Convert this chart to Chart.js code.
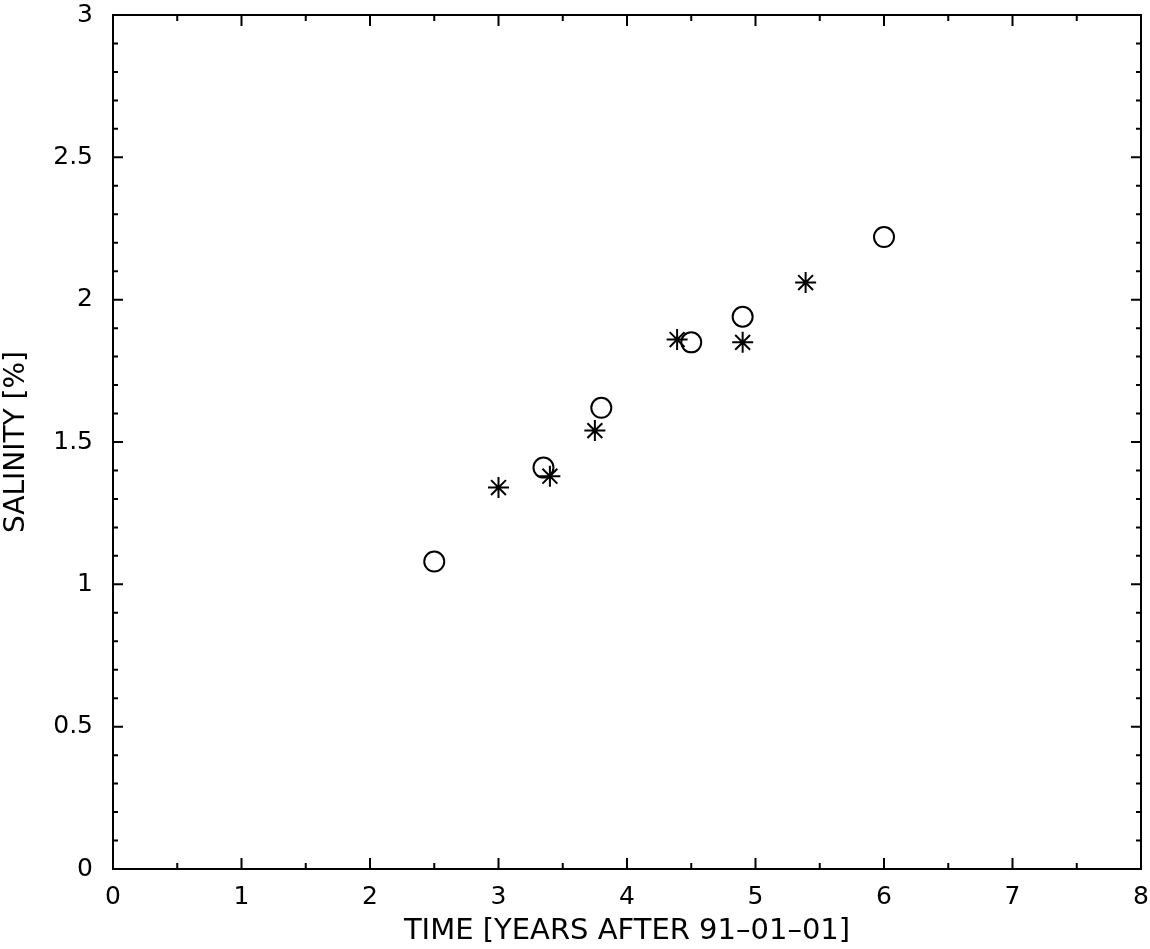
<!DOCTYPE html>
<html>
<head>
<meta charset="utf-8">
<title>Salinity vs time</title>
<script src="https://cdn.jsdelivr.net/npm/chart.js@4/dist/chart.umd.min.js"></script>
<style>
  html, body { margin: 0; padding: 0; background: #fff; }
  canvas { display: block; }
</style>
</head>
<body>
<canvas id="salinityChart" width="1150" height="949"></canvas>
<script>
// ----------- DATA -----------
const circleX = [2.5, 3.35, 3.8, 4.5, 4.9, 6.0];
const circleY = [1.08, 1.41, 1.62, 1.85, 1.94, 2.22];
const starX = [3.0, 3.4, 3.75, 4.39, 4.9, 5.39];
const starY = [1.34, 1.38, 1.54, 1.86, 1.85, 2.06];

const xTickLabels = ['0', '1', '2', '3', '4', '5', '6', '7', '8'];
const yTickLabels = ['0', '0.5', '1', '1.5', '2', '2.5', '3'];

const xTitle = 'TIME [YEARS AFTER 91\u201301\u201301]';
const yTitle = 'SALINITY [%]';

Chart.defaults.font.family = '"DejaVu Sans", "Liberation Sans", Arial, sans-serif';
Chart.defaults.color = '#000';

const toPoints = (xs, ys) => xs.map((x, i) => ({ x: x, y: ys[i] }));

// no extra label overhang padding, the layout padding sets the box
function noPad(scale) {
  scale.paddingLeft = 0;
  scale.paddingRight = 0;
  scale.paddingTop = 0;
  scale.paddingBottom = 0;
}

// ----------- FRAME + INWARD TICKS -----------
const frameTicks = {
  id: 'frameTicks',
  afterDraw(chart) {
    const ctx = chart.ctx;
    const a = chart.chartArea;
    const xs = chart.scales.x;
    const ys = chart.scales.y;
    ctx.save();
    ctx.strokeStyle = '#000';
    ctx.lineWidth = 2;
    ctx.strokeRect(a.left, a.top, a.right - a.left, a.bottom - a.top);

    ctx.beginPath();
    for (let i = 0; i <= 16; i++) {
      const v = i * 0.5;
      const len = (i % 2 === 0) ? 11 : 6;
      const px = xs.getPixelForValue(v);
      ctx.moveTo(px, a.bottom); ctx.lineTo(px, a.bottom - len);
      ctx.moveTo(px, a.top); ctx.lineTo(px, a.top + len);
    }
    for (let i = 0; i <= 30; i++) {
      const v = i * 0.1;
      const len = (i % 5 === 0) ? 10 : 5;
      const py = ys.getPixelForValue(v);
      ctx.moveTo(a.left, py); ctx.lineTo(a.left + len, py);
      ctx.moveTo(a.right, py); ctx.lineTo(a.right - len, py);
    }
    ctx.stroke();
    ctx.restore();
  }
};

// ----------- CHART -----------
const ctx = document.getElementById('salinityChart').getContext('2d');
const salinityChart = new Chart(ctx, {
  type: 'scatter',
  data: {
    datasets: [
      {
        label: 'circles',
        data: toPoints(circleX, circleY),
        pointStyle: 'circle',
        pointRadius: 10,
        borderColor: '#000',
        backgroundColor: 'rgba(0,0,0,0)',
        borderWidth: 2
      },
      {
        label: 'stars',
        data: toPoints(starX, starY),
        pointStyle: 'star',
        pointRadius: 10.5,
        borderColor: '#000',
        backgroundColor: 'rgba(0,0,0,0)',
        borderWidth: 2
      }
    ]
  },
  options: {
    responsive: false,
    animation: false,
    layout: { autoPadding: false, padding: { top: 15, right: 9, left: 0, bottom: 0 } },
    plugins: {
      legend: { display: false },
      tooltip: { enabled: false }
    },
    scales: {
      x: {
        type: 'linear',
        min: 0,
        max: 8,
        afterFit: (scale) => { scale.height = 80; noPad(scale); },
        grid: { display: false, drawTicks: false },
        border: { display: false },
        ticks: {
          stepSize: 1,
          padding: 13,
          maxRotation: 0,
          font: { size: 25 },
          color: '#000',
          callback: (v, i) => xTickLabels[i]
        },
        title: {
          display: true,
          text: xTitle,
          font: { size: 29 },
          color: '#000',
          padding: { top: 2, bottom: 0 }
        }
      },
      y: {
        type: 'linear',
        min: 0,
        max: 3,
        afterFit: (scale) => { scale.width = 113; noPad(scale); },
        grid: { display: false, drawTicks: false },
        border: { display: false },
        ticks: {
          stepSize: 0.5,
          padding: 20,
          font: { size: 25 },
          color: '#000',
          callback: (v, i) => yTickLabels[i]
        },
        title: {
          display: true,
          text: yTitle,
          font: { size: 28 },
          color: '#000',
          padding: { top: 0, bottom: 0 }
        }
      }
    }
  },
  plugins: [frameTicks]
});
</script>
</body>
</html>
